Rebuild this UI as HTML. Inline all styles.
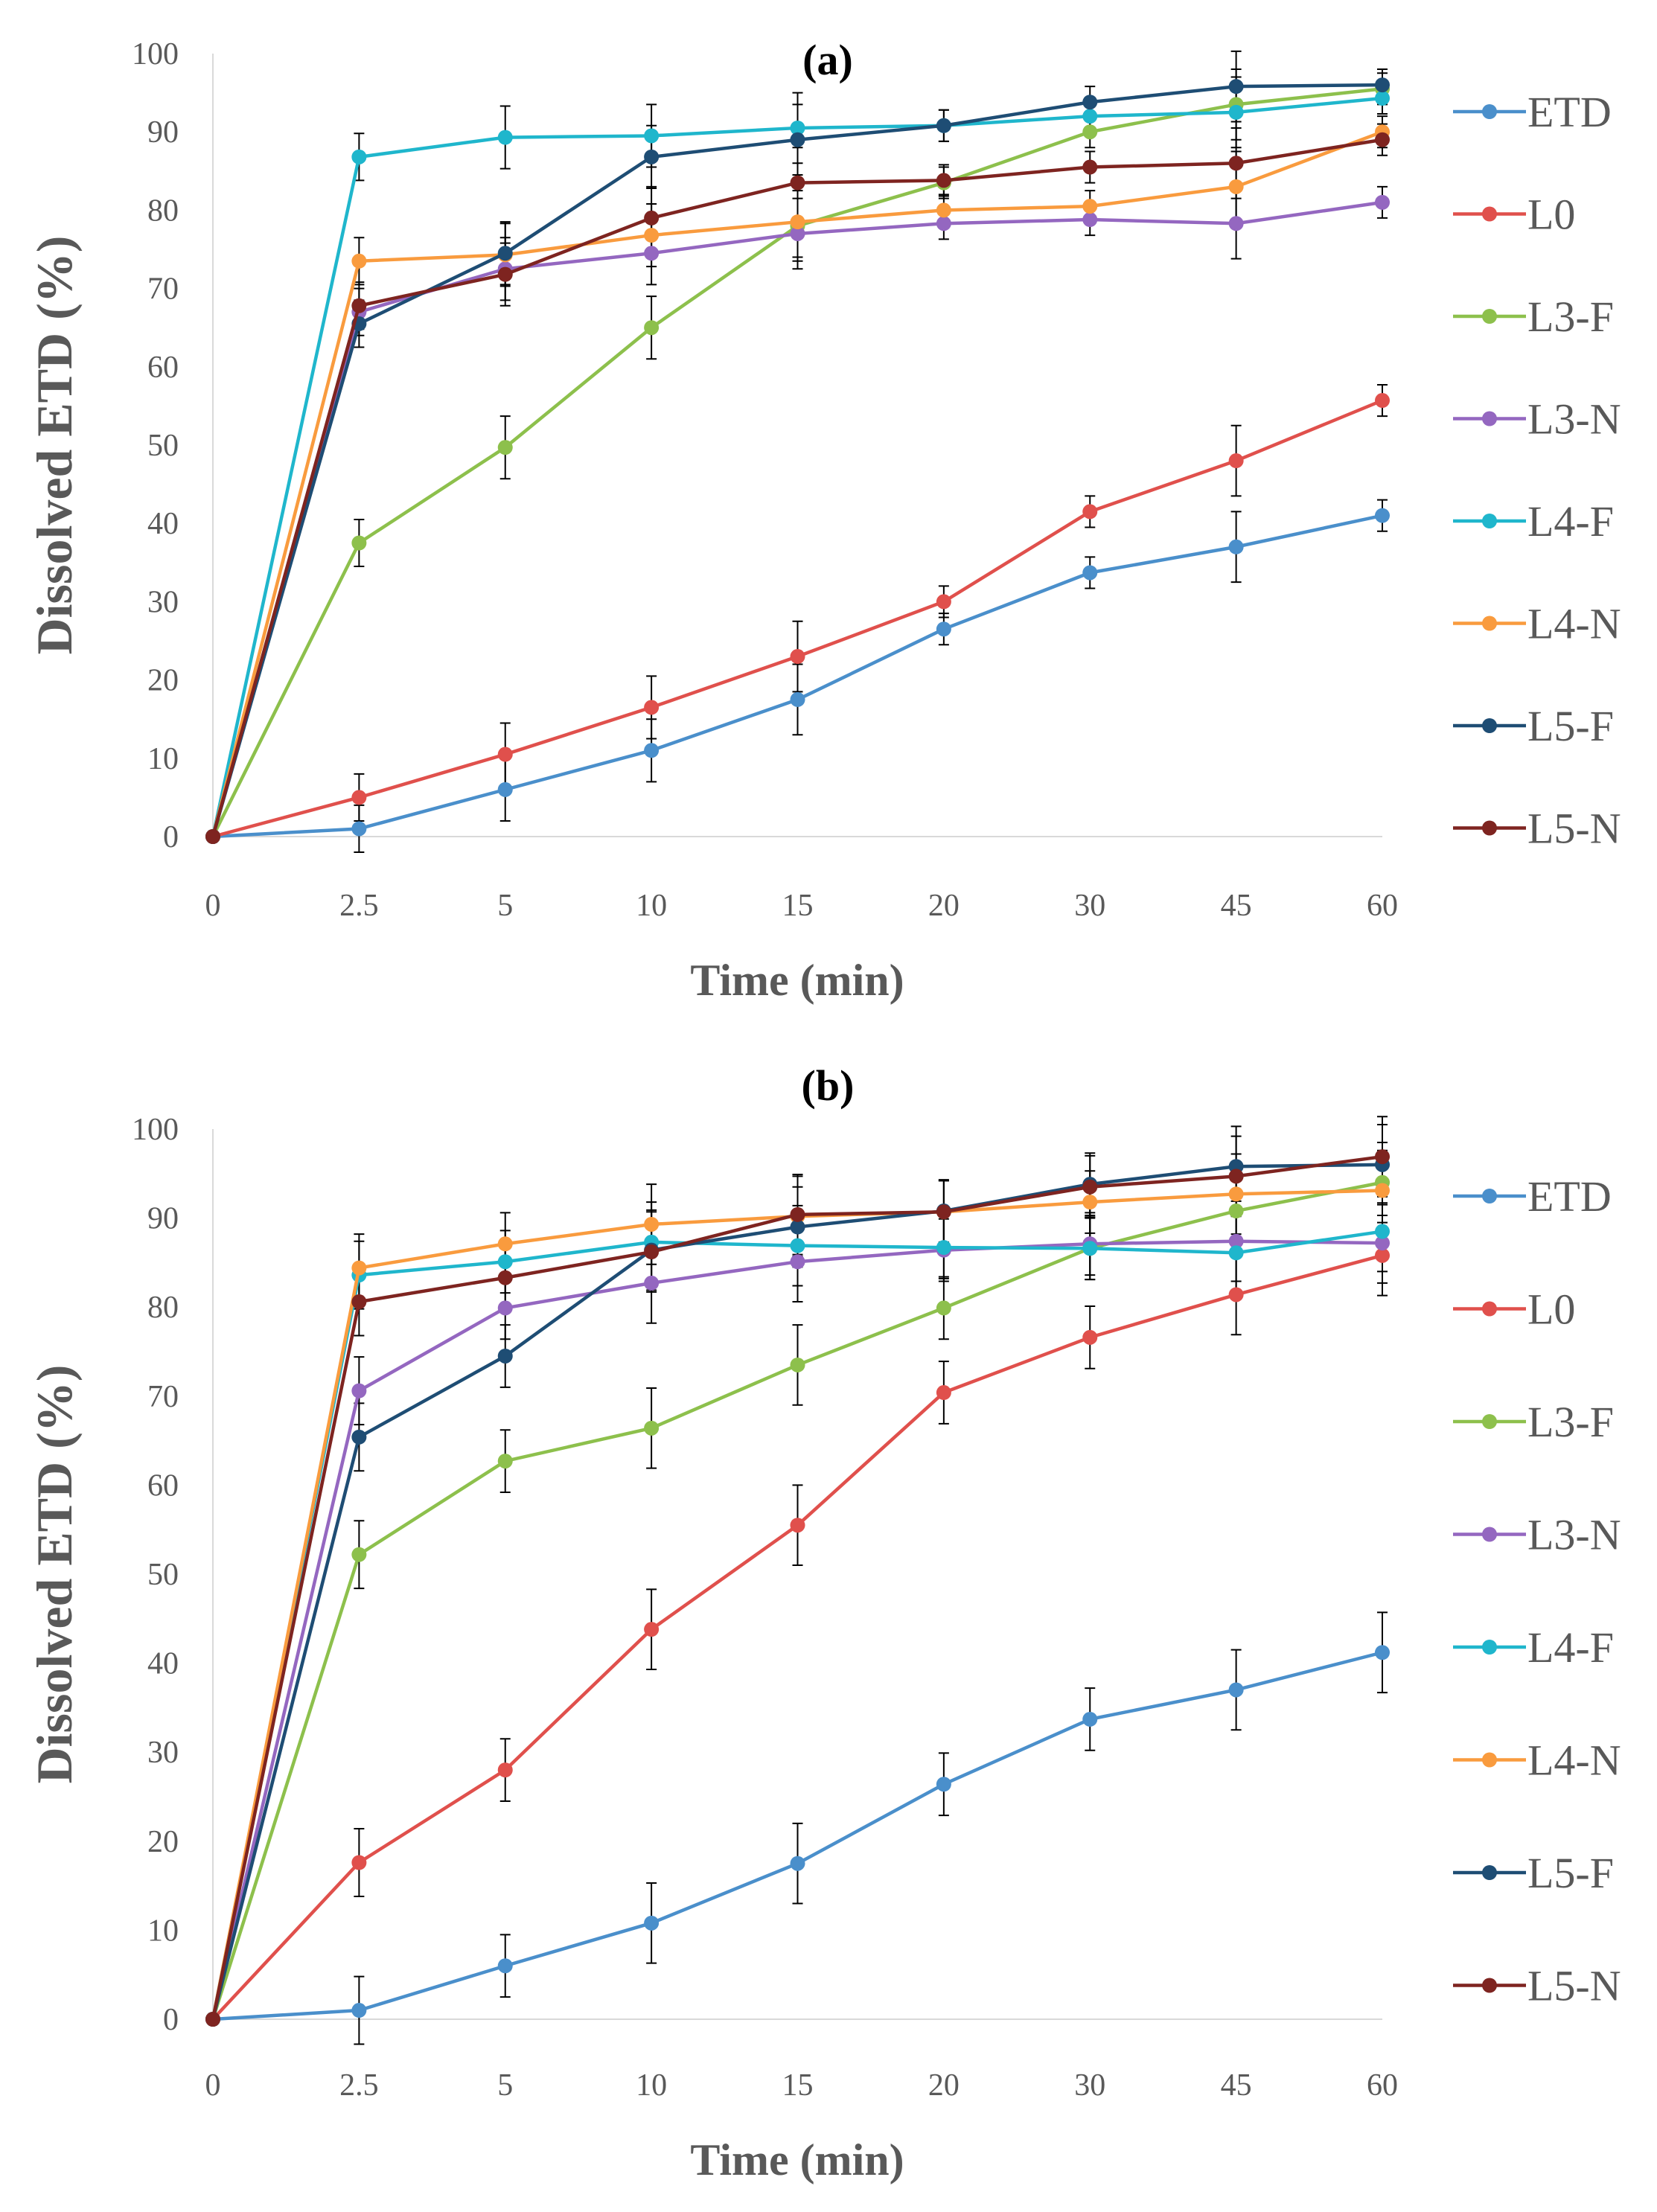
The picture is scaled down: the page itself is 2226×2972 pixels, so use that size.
<!DOCTYPE html>
<html><head><meta charset="utf-8"><style>
html,body{margin:0;padding:0;background:#fff;}
svg{display:block;}
.tick{font-family:"Liberation Serif",serif;font-size:42px;fill:#595959;}
.ttl{font-family:"Liberation Serif",serif;font-size:60px;font-weight:bold;fill:#595959;}
.ytl{font-family:"Liberation Serif",serif;font-size:68px;font-weight:bold;fill:#595959;}
.hd{font-family:"Liberation Serif",serif;font-size:58px;font-weight:bold;fill:#000;}
.leg{font-family:"Liberation Serif",serif;font-size:58px;fill:#595959;}
</style></head><body>
<svg id="chart" width="2226" height="2972" xmlns="http://www.w3.org/2000/svg"></svg>
<script>
const categories=["0","2.5","5","10","15","20","30","45","60"];
const yTicks=[0,10,20,30,40,50,60,70,80,90,100];
const seriesNames=["ETD","L0","L3-F","L3-N","L4-F","L4-N","L5-F","L5-N"];
const seriesColors=["#4a8fcb","#e0504c","#8dc04c","#9467c0","#1fb6cc","#f99b3e","#1e4d74","#7e2420"];
const aETD=[0,1,6,11,17.5,26.5,33.7,37,41];
const aL0=[0,5,10.5,16.5,23,30,41.5,48,55.7];
const aL3F=[0,37.5,49.7,65,78,83.5,90,93.5,95.5];
const aL3N=[0,67,72.5,74.5,77,78.3,78.8,78.3,81];
const aL4F=[0,86.8,89.3,89.5,90.5,90.8,92,92.5,94.3];
const aL4N=[0,73.5,74.3,76.8,78.5,80,80.5,83,90];
const aL5F=[0,65.5,74.5,86.8,89,90.8,93.8,95.8,96];
const aL5N=[0,67.8,71.8,79,83.5,83.8,85.5,86,89];
const aErr=[0,3,4,4,4.5,2,2,4.5,2];
const bETD=[0,1,6,10.8,17.5,26.4,33.7,37,41.2];
const bL0=[0,17.6,28,43.8,55.5,70.4,76.6,81.4,85.8];
const bL3F=[0,52.2,62.7,66.4,73.5,79.9,86.6,90.8,94];
const bL3N=[0,70.6,79.9,82.7,85.1,86.4,87.1,87.4,87.2];
const bL4F=[0,83.6,85.1,87.3,86.9,86.7,86.6,86.1,88.5];
const bL4N=[0,84.4,87.1,89.3,90.2,90.7,91.8,92.7,93.1];
const bL5F=[0,65.4,74.5,86.4,89,90.8,93.8,95.8,96];
const bL5N=[0,80.6,83.3,86.2,90.4,90.7,93.5,94.7,96.9];
const bErr=[0,3.8,3.5,4.5,4.5,3.5,3.5,4.5,4.5];

const svg=document.getElementById('chart');
const NS="http://www.w3.org/2000/svg";
function mk(tag,attrs,parent){const e=document.createElementNS(NS,tag);for(const k in attrs)e.setAttribute(k,attrs[k]);(parent||svg).appendChild(e);return e;}

function panel(id,label,data,err,y0,y100,titleY,tickY,xTitleY,legY){
  const g=mk('g',{});
  
  
  const x0=286,x1=1857;
  const xs=i=>x0+(x1-x0)*i/(categories.length-1);
  const ys=v=>y0+(y100-y0)*v/100;
  const h=mk('text',{x:1112,y:titleY,'text-anchor':'middle',class:'hd'},g);h.textContent=label;
  
  
  const ax=mk('line',{x1:x0,y1:y100,x2:x0,y2:y0,stroke:'#d9d9d9','stroke-width':2},g);
  
  
  const bx=mk('line',{x1:x0,y1:y0,x2:x1,y2:y0,stroke:'#d9d9d9','stroke-width':2},g);
  
  
  yTicks.forEach(v=>{const t=mk('text',{x:240,y:ys(v)+14,'text-anchor':'end',class:'tick'},g);t.textContent=v;
    
    });
  categories.forEach((c,i)=>{const t=mk('text',{x:xs(i),y:tickY,'text-anchor':'middle',class:'tick'},g);t.textContent=c;
    
    });
  const xt=mk('text',{x:1071,y:xTitleY,'text-anchor':'middle',class:'ttl'},g);xt.textContent='Time (min)';
  
  
  const cy=(y0+y100)/2;
  const yt=mk('text',{x:0,y:0,'text-anchor':'middle',class:'ytl',transform:`translate(96,${cy}) rotate(-90)`},g);yt.textContent='Dissolved ETD (%)';
  
  
  data.forEach((s,si)=>{s.forEach((v,i)=>{if(i===0)return;const e=err[i];
    const eb=mk('path',{d:`M${xs(i)},${ys(v-e)}V${ys(v+e)}M${xs(i)-7},${ys(v-e)}H${xs(i)+7}M${xs(i)-7},${ys(v+e)}H${xs(i)+7}`,stroke:'#000','stroke-width':2,fill:'none'},g);
    
    });});
  data.forEach((s,si)=>{
    const p=mk('polyline',{points:s.map((v,i)=>xs(i)+','+ys(v)).join(' '),fill:'none',stroke:seriesColors[si],'stroke-width':4.5},g);
    
    
    s.forEach((v,i)=>{const c=mk('circle',{cx:xs(i),cy:ys(v),r:10,fill:seriesColors[si]},g);
      
      });
  });
  seriesNames.forEach((n,si)=>{const y=legY[0]+si*legY[1];
    const lg=mk('g',{},g);
    
    
    mk('line',{x1:1952,y1:y,x2:2050,y2:y,stroke:seriesColors[si],'stroke-width':4.5},lg);
    mk('circle',{cx:2001,cy:y,r:10,fill:seriesColors[si]},lg);
    const t=mk('text',{x:2052,y:y+20,class:'leg'},lg);t.textContent=n;});
}
panel('a','(a)',[aETD,aL0,aL3F,aL3N,aL4F,aL4N,aL5F,aL5N],aErr,1124,72,100,1230,1337,[150,137.5]);
panel('b','(b)',[bETD,bL0,bL3F,bL3N,bL4F,bL4N,bL5F,bL5N],bErr,2713,1517,1478,2815,2922,[1607,151.5]);
</script>
</body></html>
